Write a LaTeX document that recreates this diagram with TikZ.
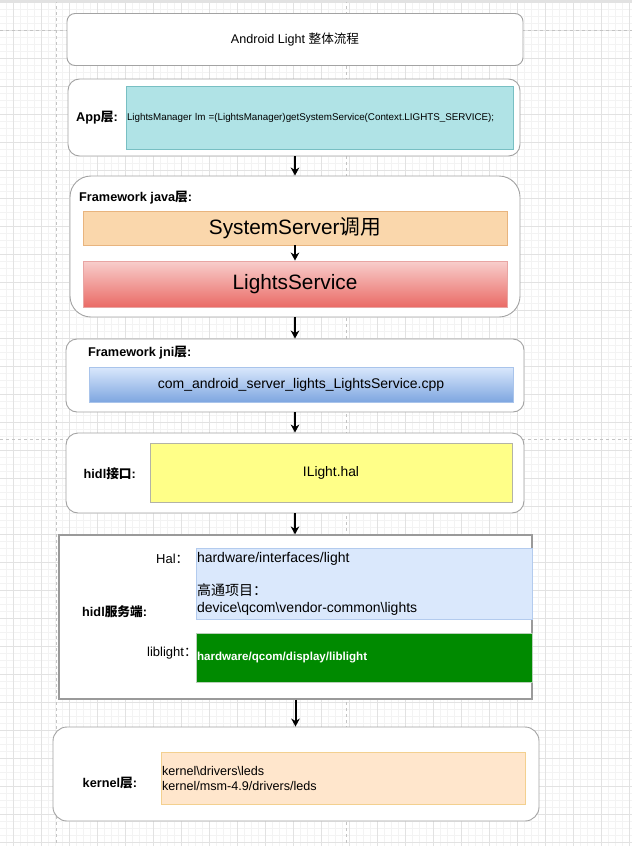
\documentclass[tikz,border=0pt]{standalone}
\usepackage{fontspec}
\setmainfont{Liberation Sans}
\newfontfamily\cjk{Noto Sans CJK SC}
\usetikzlibrary{arrows.meta}
\newcommand\zh[1]{{\cjk #1}}
\definecolor{gridmin}{HTML}{F3F3F3}
\definecolor{gridmaj}{HTML}{E2E2E2}
\definecolor{pagebrk}{HTML}{C4C4C4}
\definecolor{boxgray}{HTML}{A3A3A3}
\definecolor{appfill}{HTML}{B0E3E6}
\definecolor{appedge}{HTML}{78BFC3}
\definecolor{sysfill}{HTML}{FAD7AC}
\definecolor{sysedge}{HTML}{E8B47E}
\definecolor{svctop}{HTML}{F8CECC}
\definecolor{svcbot}{HTML}{EA6B66}
\definecolor{svcedge}{HTML}{E8A5A3}
\definecolor{cpptop}{HTML}{DAE8FC}
\definecolor{cppbot}{HTML}{7EA6E0}
\definecolor{cppedge}{HTML}{A9C4EB}
\definecolor{ilfill}{HTML}{FFFF88}
\definecolor{iledge}{HTML}{B3B3A6}
\definecolor{srvedge}{HTML}{9A9A9A}
\definecolor{pathfill}{HTML}{DAE8FC}
\definecolor{pathedge}{HTML}{B3CBEE}
\definecolor{libfill}{HTML}{008A00}
\definecolor{libedge}{HTML}{B8D0B8}
\definecolor{kfill}{HTML}{FFE6CC}
\definecolor{kedge}{HTML}{F3D08F}
\tikzset{
  layer/.style={draw=boxgray, fill=white, line width=0.9pt, inner sep=0pt},
  item/.style={inner sep=0pt, line width=0.9pt},
  lbl/.style={anchor=west, inner sep=0pt, font=\bfseries\fontsize{12.7}{15}\selectfont},
  side/.style={anchor=west, inner sep=0pt, font=\fontsize{13}{15}\selectfont},
  flow/.style={line width=2pt, -{Stealth[length=8pt,width=8.5pt,inset=2.5pt]}},
}
\begin{document}
\begin{tikzpicture}[x=1pt, y=-1pt]
    \useasboundingbox (0,0) rectangle (632,846);
    \fill[white] (0,0) rectangle (632,846);
    \foreach \i in {0,...,90} \draw[gridmin, line width=0.6pt] ({-0.7+7*\i},0) -- ({-0.7+7*\i},846);
    \foreach \j in {0,...,121} \draw[gridmin, line width=0.6pt] (0,{2+7*\j}) -- (632,{2+7*\j});
    \foreach \i in {0,...,22} \draw[gridmaj, line width=0.8pt] ({13.3+28*\i},0) -- ({13.3+28*\i},846);
    \foreach \j in {0,...,30} \draw[gridmaj, line width=0.8pt] (0,{2+28*\j}) -- (632,{2+28*\j});
    \draw[pagebrk, dash pattern=on 3pt off 3pt] (56,0) -- (56,846) (346,0) -- (346,846);
    \draw[pagebrk, dash pattern=on 3pt off 3pt] (0,30.5) -- (632,30.5) (0,439.3) -- (632,439.3);
    \fill[gridmaj] (0,0) rectangle (632,2);

    \node[layer, rounded corners=8pt, minimum width=456pt, minimum height=52pt, font=\fontsize{12.6}{15}\selectfont] (title) at (295,39.5) {Android Light \zh{整体流程}};

    \node[layer, rounded corners=11.5pt, minimum width=452pt, minimum height=77pt] (app) at (294,117.5) {};
    \node[item, draw=appedge, fill=appfill, minimum height=63pt, text width=385pt, inner xsep=1pt, align=left, font=\fontsize{9.8}{12}\selectfont] (appcode) at (319.5,117.5) {LightsManager lm =(LightsManager)getSystemService(Context.LIGHTS\_SERVICE);};
    \node[lbl] (applbl) at (76,117.5) {App\zh{层}:};

    \node[layer, rounded corners=21pt, minimum width=450pt, minimum height=141pt] (java) at (295,246.5) {};
    \node[lbl] (javalbl) at (79,198) {Framework java\zh{层}:};
    \node[item, draw=sysedge, fill=sysfill, minimum width=424pt, minimum height=34pt, font=\fontsize{20.8}{25}\selectfont] (sysserver) at (295,228) {SystemServer\zh{调用}};
    \node[item, draw=svcedge, top color=svctop, bottom color=svcbot, minimum width=424pt, minimum height=46pt, font=\fontsize{20.8}{25}\selectfont] (lservice) at (295,284) {LightsService};

    \node[layer, rounded corners=11pt, minimum width=458pt, minimum height=73pt] (jni) at (295,375.5) {};
    \node[lbl] (jnilbl) at (88,353) {Framework jni\zh{层}:};
    \node[item, draw=cppedge, top color=cpptop, bottom color=cppbot, minimum width=424pt, minimum height=35pt, font=\fontsize{14}{17}\selectfont] (cpp) at (301,384.5) {com\_android\_server\_lights\_LightsService.cpp};

    \node[layer, rounded corners=12pt, minimum width=458pt, minimum height=80pt] (hidl) at (295,473) {};
    \node[lbl] (hidllbl) at (83.5,474) {hidl\zh{接口}:};
    \node[item, draw=iledge, fill=ilfill, minimum width=362pt, minimum height=59pt, font=\fontsize{13.8}{17}\selectfont] (ilight) at (331,472.5) {ILight.hal};

    \node[layer, draw=srvedge, line width=1.2pt, minimum width=473pt, minimum height=164pt] (srv) at (295.5,617) {};
    \node[lbl] (srvlbl) at (82,612) {hidl\zh{服务端}:};
    \node[side] (hallbl) at (156,559) {Hal\zh{：}};
    \node[item, draw=pathedge, fill=pathfill, minimum height=71pt, text width=334pt, inner xsep=1pt, align=left, font=\fontsize{14}{16.7}\selectfont] (halpath) at (364,583.5) {hardware/interfaces/light\\\mbox{}\\\zh{高通项目：}\\device\textbackslash qcom\textbackslash vendor-common\textbackslash lights};
    \node[side] (liblbl) at (147,653) {liblight\zh{：}};
    \node[item, draw=libedge, fill=libfill, minimum height=49pt, text width=334pt, inner xsep=1pt, align=left, text=white, font=\bfseries\fontsize{11.6}{14}\selectfont] (libpath) at (364,657.5) {hardware/qcom/display/liblight};

    \node[layer, rounded corners=14pt, minimum width=486pt, minimum height=94pt] (kernel) at (296,774) {};
    \node[lbl] (kernellbl) at (82.5,783) {kernel\zh{层}:};
    \node[item, draw=kedge, fill=kfill, minimum height=52pt, text width=362pt, inner xsep=1pt, align=left, font=\fontsize{12.6}{15}\selectfont] (kpath) at (343,778) {kernel\textbackslash drivers\textbackslash leds\\kernel/msm-4.9/drivers/leds};

    \draw[flow] (java.north |- app.south) -- (java.north);
    \draw[flow] (sysserver.south) -- (lservice.north);
    \draw[flow] (java.south) -- (jni.north);
    \draw[flow] (jni.south) -- (hidl.north);
    \draw[flow] (hidl.south) -- (hidl.south |- srv.north);
    \draw[flow] (srv.south) -- (srv.south |- kernel.north);
\end{tikzpicture}
\end{document}
